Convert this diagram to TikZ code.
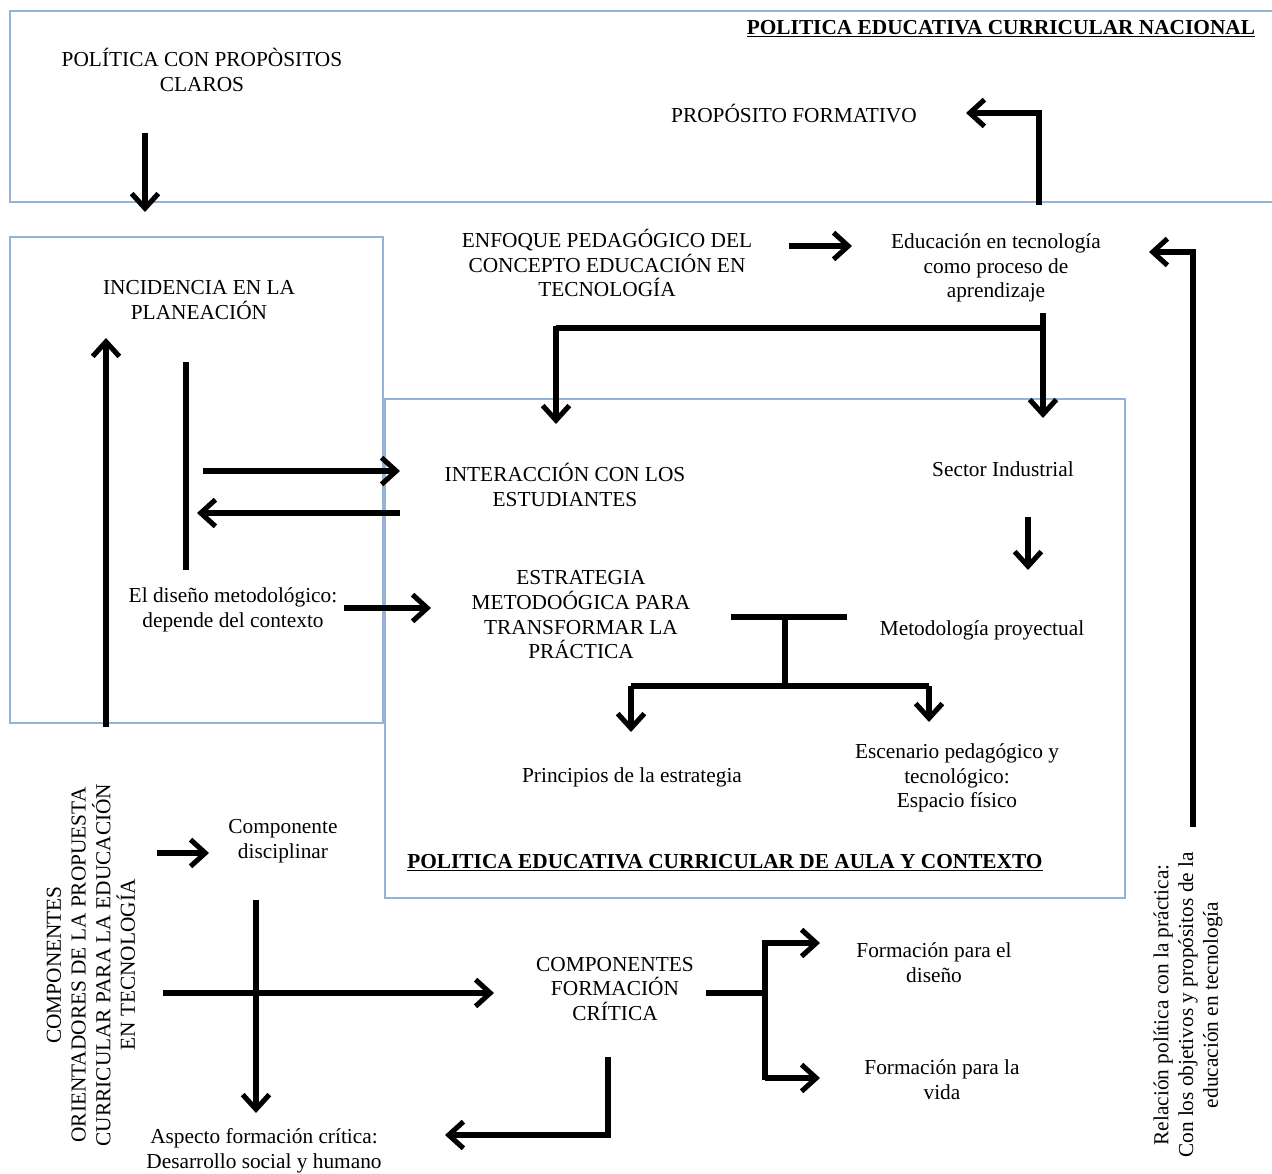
\documentclass[tikz,border=0pt]{standalone}
\usepackage{fontspec}
\setmainfont{Liberation Serif}
\usetikzlibrary{arrows.meta}
\definecolor{frameblue}{RGB}{149,179,215}
\begin{document}
\begin{tikzpicture}[x=0.75pt,y=-0.75pt,
  frame/.style={draw=frameblue,line width=0.8pt},
  txt/.style={align=center,inner sep=0pt,font=\fontsize{16}{18.5}\selectfont},
  head/.style={txt,font=\fontsize{16}{18.5}\selectfont\bfseries},
  link/.style={line width=4pt,line cap=butt,-{Straight Barb[length=11pt,width=20pt,line width=3.8pt]}},
  bar/.style={line width=4pt}]
\useasboundingbox (0,0) rectangle (1272,1174);
\fill[white] (0,0) rectangle (1272,1174);

% frames of the three policy levels
\draw[frame] (1272,11) -- (10,11) -- (10,202) -- (1272,202);
\draw[frame] (10,237) rectangle (383,723);
\draw[frame] (385,399) rectangle (1125,898);

% texts
\node[txt] (claros) at (202,70) {POLÍTICA CON PROPÒSITOS\\CLAROS};
\node[head] (nacional) at (1001,29) {\underline{POLITICA EDUCATIVA CURRICULAR NACIONAL}};
\node[txt] (formativo) at (794,114) {PROPÓSITO FORMATIVO};
\node[txt] (enfoque) at (607,263) {ENFOQUE PEDAGÓGICO DEL\\CONCEPTO EDUCACIÓN EN\\TECNOLOGÍA};
\node[txt] (edutec) at (996,268) {Educación en tecnología\\como proceso de\\aprendizaje};
\node[txt] (incidencia) at (199,300) {INCIDENCIA EN LA\\PLANEACIÓN};
\node[txt] (diseno) at (233,610) {El diseño metodológico:\\depende del contexto};
\node[txt] (interaccion) at (565,485) {INTERACCIÓN CON LOS\\ESTUDIANTES};
\node[txt] (sector) at (1003,469) {Sector Industrial};
\node[txt] (estrategia) at (581,615) {ESTRATEGIA\\METODOÓGICA PARA\\TRANSFORMAR LA\\PRÁCTICA};
\node[txt] (proyectual) at (982,630) {Metodología proyectual};
\node[txt] (principios) at (632,777) {Principios de la estrategia};
\node[txt] (escenario) at (957,778) {Escenario pedagógico y\\tecnológico:\\Espacio físico};
\node[head] (aula) at (725,863) {\underline{POLITICA EDUCATIVA CURRICULAR DE AULA Y CONTEXTO}};
\node[txt,rotate=90] (orientadores) at (91,965) {COMPONENTES\\ORIENTADORES DE LA PROPUESTA\\CURRICULAR PARA LA EDUCACIÓN\\EN TECNOLOGÍA};
\node[txt] (disciplinar) at (283,841) {Componente\\disciplinar};
\node[txt] (critica) at (615,989) {COMPONENTES\\FORMACIÓN\\CRÍTICA};
\node[txt] (paradiseno) at (934,963) {Formación para el\\diseño};
\node[txt] (vida) at (942,1080) {Formación para la\\vida};
\node[txt] (aspecto) at (264,1151) {Aspecto formación crítica:\\Desarrollo social y humano};
\node[txt,rotate=90] (relacion) at (1188,1005) {Relación política con la práctica:\\Con los objetivos y propósitos de la\\educación en tecnología};

% connector ends
\coordinate (c1a) at (145,133);  \coordinate (c1b) at (145,212);
\coordinate (c2a) at (1039,205); \coordinate (c2b) at (1039,113); \coordinate (c2c) at (966,113);
\coordinate (c3a) at (789,246);  \coordinate (c3b) at (852,246);
\coordinate (c4a) at (1193,827); \coordinate (c4b) at (1193,252); \coordinate (c4c) at (1149,252);
\coordinate (s1) at (556,328);   \coordinate (s2) at (1043,328);
\coordinate (s3) at (1043,313);  \coordinate (s4) at (1043,418);
\coordinate (s5) at (556,424);
\coordinate (u1) at (106,727);   \coordinate (u2) at (106,338);
\coordinate (v1) at (186,362);   \coordinate (v2) at (186,570);
\coordinate (h1) at (203,471);   \coordinate (h2) at (400,471);
\coordinate (h3) at (400,513);   \coordinate (h4) at (197,513);
\coordinate (h5) at (344,608);   \coordinate (h6) at (431,608);
\coordinate (i1) at (1028,517);  \coordinate (i2) at (1028,570);
\coordinate (t1) at (731,617);   \coordinate (t2) at (847,617);
\coordinate (t3) at (785,617);   \coordinate (t4) at (785,686);
\coordinate (t5) at (631,686);   \coordinate (t6) at (929,686);
\coordinate (t7) at (631,732);   \coordinate (t8) at (929,722);
\coordinate (d1) at (157,853);   \coordinate (d2) at (209,853);
\coordinate (x1) at (256,900);   \coordinate (x2) at (256,1113);
\coordinate (x3) at (163,993);   \coordinate (x4) at (494,993);
\coordinate (b1) at (706,993);   \coordinate (b2) at (765,993);
\coordinate (b3) at (765,940);   \coordinate (b4) at (765,1080);
\coordinate (b5) at (820,943);   \coordinate (b6) at (820,1078);
\coordinate (l1) at (608,1057);  \coordinate (l2) at (608,1135); \coordinate (l3) at (445,1135);

% connectors
\draw[link] (c1a) -- (c1b);
\draw[link] (c2a) -- (c2b) -- (c2c);
\draw[link] (c3a) -- (c3b);
\draw[link] (c4a) -- (c4b) -- (c4c);
\draw[bar] (s1) -- (s2);
\draw[link] (s3) -- (s4);
\draw[link] ([yshift=1.5pt]s1) -- (s5);
\draw[link] (u1) -- (u2);
\draw[bar] (v1) -- (v2);
\draw[link] (h1) -- (h2);
\draw[link] (h3) -- (h4);
\draw[link] (h5) -- (h6);
\draw[link] (i1) -- (i2);
\draw[bar] (t1) -- (t2);
\draw[bar] (t3) -- (t4);
\draw[bar] (t5) -- (t6);
\draw[link] (t5) -- (t7);
\draw[link] (t6) -- (t8);
\draw[link] (d1) -- (d2);
\draw[link] (x1) -- (x2);
\draw[link] (x3) -- (x4);
\draw[bar] (b1) -- (b2);
\draw[bar] (b3) -- (b4);
\draw[link] (b3 |- b5) -- (b5);
\draw[link] (b4 |- b6) -- (b6);
\draw[link] (l1) -- (l2) -- (l3);
\end{tikzpicture}
\end{document}
